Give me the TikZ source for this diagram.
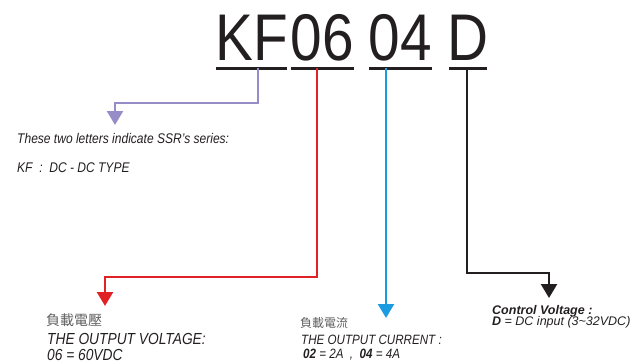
\documentclass[tikz,border=0pt]{standalone}
\usepackage{graphicx}
\usepackage{fontspec}
\setmainfont{Liberation Sans}
\newfontfamily\cjk{Noto Sans CJK TC}
\usepackage{tikz}
\usetikzlibrary{arrows.meta}
\definecolor{ink}{RGB}{35,31,32}
\definecolor{cjkgrey}{RGB}{95,95,95}
\definecolor{serpurple}{RGB}{150,140,200}
\definecolor{voltred}{RGB}{224,34,36}
\definecolor{currblue}{RGB}{28,156,224}
\newcommand{\nrw}[1]{\scalebox{.86}[1]{#1}}

\begin{document}
\begin{tikzpicture}[x=1pt,y=-1pt,>={Triangle[width=16pt,length=14pt]},
  code/.style={inner sep=0pt,anchor=base,text=ink,font=\fontsize{66}{66}\selectfont},
  bar/.style={line width=3pt,ink},
  lead/.style={line width=2.5pt,->},
  note/.style={inner sep=0pt,anchor=base west,text=ink,font=\itshape\fontsize{14}{16}\selectfont},
  small/.style={inner sep=0pt,anchor=base west,text=ink,font=\itshape\fontsize{13.5}{16}\selectfont},
  big/.style={inner sep=0pt,anchor=base west,text=ink,font=\itshape\fontsize{16}{18}\selectfont},
  cjktxt/.style={inner sep=0pt,anchor=west,text=cjkgrey}]
\useasboundingbox (0,0) rectangle (641,362);
% part number
\node[code] (kf) at (251.5,60) {\nrw{KF}};
\node[code] (vcode) at (322.5,60) {\nrw{06}};
\node[code] (icode) at (400.5,60) {\nrw{04}};
\node[code] (ccode) at (468,60) {\nrw{D}};
\draw[bar] (216,68)--(287,68)
(291,68)--(354,68)
(369,68)--(432,68)
(449,68)--(487,68);
% series
\coordinate (kfb) at (258,68);
\coordinate (kfe) at (115,103);
\coordinate (kft) at (115,125);
\draw[lead,serpurple] (kfb) |- (kfe) -- (kft);
\node[note] (series) at (17,143) {\nrw{These two letters indicate SSR's series:}};
\node[note] (kftype) at (17,172) {\nrw{KF\ \ :\ \ DC - DC TYPE}};
% output voltage
\coordinate (vb) at (317,68);
\coordinate (ve) at (105,277);
\coordinate (vt) at (105,306);
\draw[lead,voltred] (vb) |- (ve) -- (vt);
\node[cjktxt,font=\cjk\fontsize{14}{14}\selectfont] (vcjk) at (46,320) {負載電壓};
\node[big] (vtitle) at (47,344) {\nrw{THE OUTPUT VOLTAGE:}};
\node[big] (vval) at (47,360.5) {\nrw{06 = 60VDC}};
% output current
\coordinate (ib) at (386,68);
\coordinate (it) at (386,318);
\draw[lead,currblue] (ib) -- (it);
\node[cjktxt,font=\cjk\fontsize{12}{12}\selectfont] (icjk) at (300,323) {負載電流};
\node[small] (ititle) at (301,344) {\nrw{THE OUTPUT CURRENT :}};
\node[small] (ival) at (303,358) {\nrw{{\bfseries 02} = 2A\ \ ,\ \ {\bfseries 04} = 4A}};
% control voltage
\coordinate (cb) at (467,68);
\coordinate (ce) at (549,273);
\coordinate (ct) at (549,298);
\draw[lead,ink] (cb) |- (ce) -- (ct);
\node[inner sep=0pt,anchor=base west,text=ink,font=\bfseries\itshape\fontsize{12.5}{13}\selectfont] (ctitle) at (492,314) {Control Voltage :};
\node[inner sep=0pt,anchor=base west,text=ink,font=\itshape\fontsize{12.5}{13}\selectfont] (cval) at (492,325) {{\bfseries D} = DC input (3\textasciitilde32VDC)};
\end{tikzpicture}
\end{document}
